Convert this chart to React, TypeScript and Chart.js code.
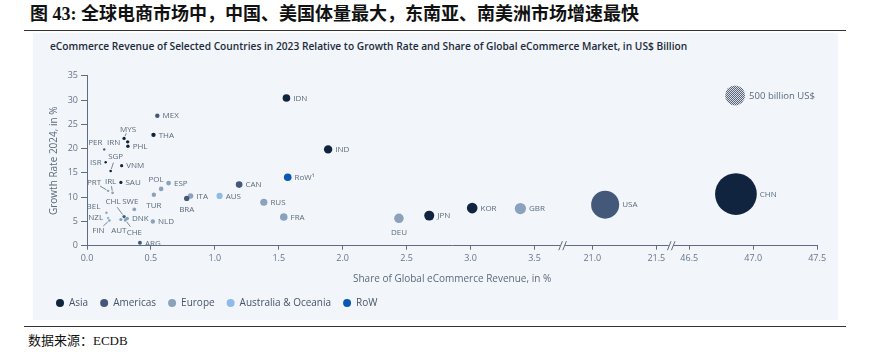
import React, { useEffect, useRef } from "react";
import { Chart, registerables } from "chart.js";

Chart.register(...registerables);

// ---------------- data ----------------
const countries = [
  "IDN", "MEX", "THA", "MYS", "IRN", "PHL", "PER", "ISR", "SGP", "VNM",
  "SAU", "PRT", "IRL", "POL", "ESP", "TUR", "CAN", "RoW¹", "BRA", "ITA",
  "AUS", "RUS", "FRA", "BEL", "NZL", "CHL", "SWE", "FIN", "AUT", "DNK",
  "CHE", "NLD", "ARG", "IND", "DEU", "JPN", "KOR", "GBR", "USA", "CHN",
];
// share of global eCommerce revenue, %
const shares = [
  1.56, 0.55, 0.52, 0.29, 0.318, 0.32, 0.135, 0.146, 0.185, 0.271,
  0.265, 0.165, 0.2, 0.58, 0.638, 0.523, 1.19, 1.57, 0.78, 0.81,
  1.037, 1.383, 1.539, 0.152, 0.165, 0.29, 0.37, 0.175, 0.265, 0.315,
  0.3, 0.515, 0.414, 1.886, 2.44, 2.677, 3.013, 3.39, 21.1, 46.865,
];
// growth rate 2024, %
const growth = [
  30.45, 26.8, 22.85, 22.1, 21.4, 20.5, 19.85, 17.2, 15.4, 16.5,
  13.05, 11.3, 10.9, 11.7, 12.9, 10.5, 12.6, 14.1, 9.75, 10.25,
  10.25, 8.95, 5.9, 6.8, 5.7, 6.0, 7.5, 5.2, 5.4, 5.6,
  5.3, 5.0, 0.6, 19.85, 5.65, 6.2, 7.75, 7.65, 8.45, 10.65,
];
const regionNames = ["Asia", "Americas", "Europe", "Australia & Oceania", "RoW"];
const regionOf = [
  "Asia", "Americas", "Asia", "Asia", "Asia", "Asia", "Americas", "Asia", "Asia", "Asia",
  "Asia", "Europe", "Europe", "Europe", "Europe", "Europe", "Americas", "RoW", "Americas", "Europe",
  "Australia & Oceania", "Europe", "Europe", "Europe", "Australia & Oceania", "Americas", "Europe", "Europe", "Europe", "Europe",
  "Europe", "Europe", "Americas", "Asia", "Europe", "Asia", "Asia", "Europe", "Americas", "Asia",
];
const yTickValues = [0, 5, 10, 15, 20, 25, 30, 35];
const xTickValues = [0, 0.5, 1, 1.5, 2, 2.5, 3, 3.5, 21, 21.5, 46.5, 47, 47.5];
// broken x axis: skipped ranges
const xBreaks: [number, number][] = [
  [3.72, 20.767],
  [21.617, 46.359],
];

// ---------------- styles ----------------
const regionColors = ["#10233f", "#44597a", "#8ba2bd", "#8fbbea", "#0a57b4"];
const PANEL_BG = "#f2f6fa";
const AXIS_COLOR = "#5d6c80";
const TICK_COLOR = "#667588";
const LABEL_COLOR = "#5b6a7d";
const BUBBLE_SCALE = 3.05;

type Placement = { dx: number; dy: number; align: CanvasTextAlign; leader?: boolean };
const labelPlacement: Record<string, Placement> = {
  PER: { dx: -9, dy: -7.5, align: "center" },
  IRN: { dx: -14, dy: 0.5, align: "center" },
  MYS: { dx: 4, dy: -9.5, align: "center", leader: true },
  ISR: { dx: -4, dy: 0, align: "right" },
  SGP: { dx: 5, dy: -15, align: "center", leader: true },
  PRT: { dx: -14, dy: -8.5, align: "center", leader: true },
  IRL: { dx: -2, dy: -12, align: "center", leader: true },
  POL: { dx: -5, dy: -9.5, align: "center" },
  TUR: { dx: 0, dy: 10.5, align: "center" },
  BRA: { dx: 0, dy: 11, align: "center" },
  DEU: { dx: 0, dy: 13.5, align: "center" },
  BEL: { dx: -13, dy: -6, align: "center" },
  NZL: { dx: -5, dy: -0.5, align: "right" },
  FIN: { dx: -11, dy: 10, align: "center", leader: true },
  AUT: { dx: -2, dy: 10.5, align: "center" },
  CHL: { dx: -11, dy: -15, align: "center", leader: true },
  SWE: { dx: -4, dy: -8.5, align: "center" },
  CHE: { dx: 9, dy: 12, align: "center", leader: true },
};

function toAxis(v: number): number {
  let d = v;
  for (const [a, b] of xBreaks) if (v >= b) d -= b - a;
  return d;
}
function breakPositions(): number[] {
  return xBreaks.map(([a]) => toAxis(a));
}

const labelPlugin = {
  id: "countryLabels",
  afterDatasetsDraw(chart: any) {
    const ctx = chart.ctx as CanvasRenderingContext2D;
    ctx.save();
    ctx.font = "8px 'Open Sans'";
    ctx.fillStyle = LABEL_COLOR;
    ctx.strokeStyle = LABEL_COLOR;
    ctx.lineWidth = 0.8;
    ctx.textBaseline = "middle";
    chart.data.datasets.forEach((ds: any, di: number) => {
      const meta = chart.getDatasetMeta(di);
      meta.data.forEach((el: any, i: number) => {
        const raw = ds.data[i];
        const r = raw.r;
        const p = labelPlacement[raw.code];
        let lx: number, ly: number, align: CanvasTextAlign;
        if (!p) {
          lx = el.x + r + 3;
          ly = el.y;
          align = "left";
        } else {
          lx = el.x + p.dx;
          ly = el.y + p.dy;
          align = p.align;
          if (p.leader) {
            const vx = el.x - lx, vy = el.y - ly;
            const len = Math.hypot(vx, vy);
            const ux = vx / len, uy = vy / len;
            const s = Math.min(len * 0.45, 7);
            ctx.beginPath();
            ctx.moveTo(lx + ux * s, ly + uy * s);
            ctx.lineTo(el.x - ux * (r + 0.8), el.y - uy * (r + 0.8));
            ctx.stroke();
          }
        }
        ctx.textAlign = align;
        ctx.fillText(raw.code, lx, ly + 0.5);
      });
    });
    ctx.restore();
  },
  afterDraw(chart: any) {
    const ctx = chart.ctx as CanvasRenderingContext2D;
    const xs = chart.scales.x;
    const area = chart.chartArea;
    ctx.save();
    // axis break marks
    for (const pos of breakPositions()) {
      const x = xs.getPixelForValue(pos);
      const y = area.bottom;
      ctx.fillStyle = PANEL_BG;
      ctx.fillRect(x - 2.5, y - 2, 5, 4);
      ctx.strokeStyle = AXIS_COLOR;
      ctx.lineWidth = 1;
      for (const ox of [-2, 2]) {
        ctx.beginPath();
        ctx.moveTo(x + ox - 1.8, y + 4.5);
        ctx.lineTo(x + ox + 1.8, y - 4.5);
        ctx.stroke();
      }
    }
    // size legend
    const cx = area.right - 82;
    const cy = area.top + 19.5;
    const pc = document.createElement("canvas");
    pc.width = 2;
    pc.height = 2;
    const pctx = pc.getContext("2d")!;
    pctx.fillStyle = "#d9dee6";
    pctx.fillRect(0, 0, 2, 2);
    pctx.fillStyle = "#5a6578";
    pctx.fillRect(0, 1, 1, 1);
    pctx.fillRect(1, 0, 1, 1);
    const pat = ctx.createPattern(pc, "repeat")!;
    ctx.fillStyle = pat;
    ctx.beginPath();
    ctx.arc(cx, cy, 10, 0, Math.PI * 2);
    ctx.fill();
    ctx.fillStyle = LABEL_COLOR;
    ctx.font = "9.5px 'Open Sans'";
    ctx.textAlign = "left";
    ctx.textBaseline = "middle";
    ctx.fillText("500 billion US$", cx + 14, cy + 0.5);
    ctx.restore();
  },
};

function ChartCanvas() {
  const ref = useRef<HTMLCanvasElement | null>(null);
  useEffect(() => {
    if (!ref.current) return;
    Chart.defaults.font.family = "'Open Sans', sans-serif";
    const datasets = regionNames.map((name, ri) => ({
      label: name,
      data: countries
        .map((code, i) => ({
          x: toAxis(shares[i]),
          y: growth[i],
          r: Math.max(1.2, BUBBLE_SCALE * Math.sqrt(shares[i])),
          code,
          region: regionOf[i],
        }))
        .filter((d) => d.region === name),
      backgroundColor: regionColors[ri],
      borderWidth: 0,
      hoverRadius: 0,
    }));
    const chart = new Chart(ref.current, {
      type: "bubble",
      data: { datasets },
      options: {
        animation: false,
        responsive: false,
        events: [],
        layout: { padding: { left: 11, right: 20, top: 20.7, bottom: 2 } },
        plugins: {
          tooltip: { enabled: false },
          legend: {
            position: "bottom",
            align: "start",
            labels: {
              usePointStyle: true,
              pointStyle: "circle",
              boxWidth: 8,
              boxHeight: 5.66,
              padding: 12,
              color: "#45546a",
              font: { size: 10 },
            },
          },
        },
        scales: {
          x: {
            type: "linear",
            min: toAxis(xTickValues[0]),
            max: toAxis(xTickValues[xTickValues.length - 1]),
            afterBuildTicks: (s: any) => {
              s.ticks = xTickValues.map((v) => ({ value: toAxis(v) }));
            },
            afterFit: (s: any) => {
              s.height = 40.3;
            },
            ticks: {
              autoSkip: false,
              maxRotation: 0,
              padding: 3,
              color: TICK_COLOR,
              font: { size: 9 },
              callback: (_v: any, i: number) => xTickValues[i].toFixed(1),
            },
            grid: { display: true, drawOnChartArea: false, drawTicks: true, tickLength: 4, color: AXIS_COLOR },
            border: { display: true, color: AXIS_COLOR, width: 1 },
            title: {
              display: true,
              text: "Share of Global eCommerce Revenue, in %",
              color: LABEL_COLOR,
              font: { size: 10 },
              padding: { top: 0, bottom: 1 },
            },
          },
          y: {
            type: "linear",
            min: yTickValues[0],
            max: yTickValues[yTickValues.length - 1],
            afterBuildTicks: (s: any) => {
              s.ticks = yTickValues.map((v) => ({ value: v }));
            },
            afterFit: (s: any) => {
              s.width = 43;
            },
            ticks: { padding: 3, color: TICK_COLOR, font: { size: 9 } },
            grid: { display: true, drawOnChartArea: false, drawTicks: true, tickLength: 6, color: AXIS_COLOR },
            border: { display: true, color: AXIS_COLOR, width: 1 },
            title: {
              display: true,
              text: "Growth Rate 2024, in %",
              color: LABEL_COLOR,
              font: { size: 10 },
              padding: { top: 3.7, bottom: 0 },
            },
          },
        },
      } as any,
      plugins: [labelPlugin],
    });
    return () => chart.destroy();
  }, []);
  return <canvas ref={ref} width={805} height={265} style={{ display: "block", width: 805, height: 265 }} />;
}

export default function App() {
  const serifCJK = "'Liberation Serif', 'Noto Sans CJK SC', serif";
  return (
    <div style={{ position: "fixed", left: 0, top: 0, width: 888, height: 354, background: "#fff", overflow: "hidden" }}>
      <div
        style={{
          position: "absolute",
          left: 30,
          top: 2,
          fontFamily: serifCJK,
          fontWeight: 700,
          fontSize: 18,
          lineHeight: "24px",
          color: "#111",
          whiteSpace: "nowrap",
        }}
      >
        图 43: 全球电商市场中，中国、美国体量最大，东南亚、南美洲市场增速最快
      </div>
      <div style={{ position: "absolute", left: 24, top: 30, width: 822, borderTop: "1.5px solid #333" }} />
      <div style={{ position: "absolute", left: 33, top: 33, width: 805, height: 287, background: PANEL_BG }} />
      <div
        style={{
          position: "absolute",
          left: 50,
          top: 39.5,
          fontFamily: "'Open Sans', sans-serif",
          fontWeight: 600,
          fontSize: 10.2,
          lineHeight: "13px",
          color: "#1d2a3a",
          whiteSpace: "nowrap",
        }}
      >
        eCommerce Revenue of Selected Countries in 2023 Relative to Growth Rate and Share of Global eCommerce Market, in US$ Billion
      </div>
      <div style={{ position: "absolute", left: 33, top: 55, width: 805, height: 265 }}>
        <ChartCanvas />
      </div>
      <div style={{ position: "absolute", left: 24, top: 326, width: 822, borderTop: "1.5px solid #333" }} />
      <div
        style={{
          position: "absolute",
          left: 28,
          top: 332,
          fontFamily: serifCJK,
          fontSize: 13,
          lineHeight: "18px",
          color: "#111",
          whiteSpace: "nowrap",
        }}
      >
        数据来源：ECDB
      </div>
    </div>
  );
}
